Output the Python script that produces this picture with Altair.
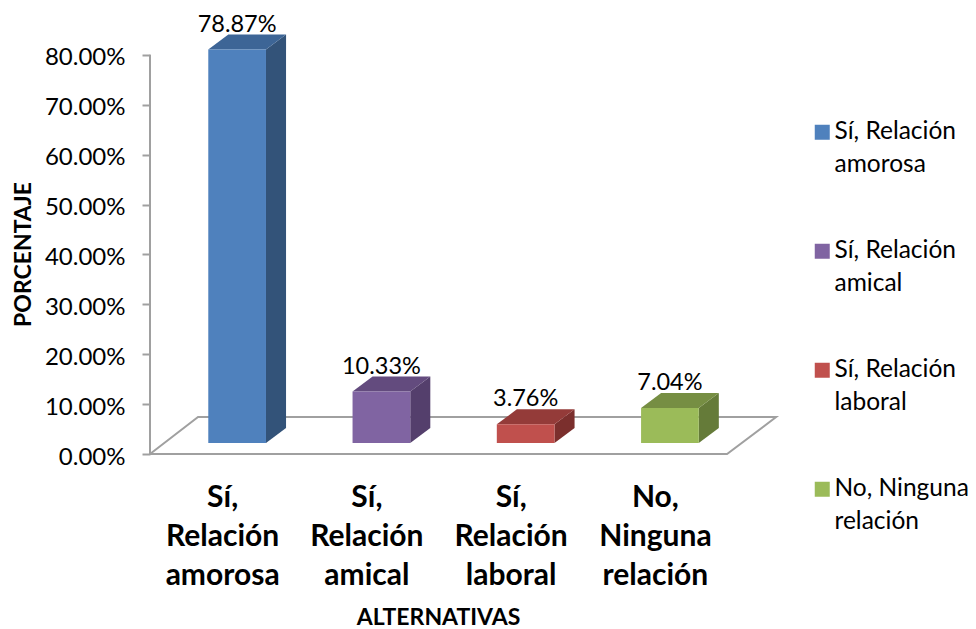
import json
import altair as alt
import pandas as pd

categories = ["Sí, Relación amorosa", "Sí, Relación amical", "Sí, Relación laboral", "No, Ninguna relación"]
legend_lines = [["Sí, Relación", "amorosa"], ["Sí, Relación", "amical"], ["Sí, Relación", "laboral"], ["No, Ninguna", "relación"]]
tick_lines = [["Sí,", "Relación", "amorosa"], ["Sí,", "Relación", "amical"], ["Sí,", "Relación", "laboral"], ["No,", "Ninguna", "relación"]]
values = [0.7887, 0.1033, 0.0376, 0.0704]
front_colors = ["#4F81BD", "#8064A2", "#C0504D", "#9BBB59"]
side_colors = ["#335379", "#543F6C", "#7B2F2D", "#657B39"]
top_colors = ["#3D6596", "#634B7E", "#943B39", "#768E43"]
y_ticks = [0, 0.1, 0.2, 0.3, 0.4, 0.5, 0.6, 0.7, 0.8]
floor_x = [-0.5, 3.5, 3.84, -0.167, -0.5]
floor_y = [0.0, 0.0, 0.0741, 0.0741, 0.0]
axis_x = [-0.5]
axis_top = [0.8]

# bar geometry, in data units
half_w = 0.2
shift = 0.104
depth_x = 0.139
depth_y = 0.03
base = 0.022
FONT = "Lato"

X = alt.Scale(domain=[-0.5, 3.867], nice=False, zero=False)
Y = alt.Scale(domain=[0, 0.8898], nice=False, zero=False)

front, side, top = [], [], []
for i, (c, v) in enumerate(zip(categories, values)):
    cx = i + shift
    x0, x1 = cx - half_w, cx + half_w
    t = v + base
    front.append(dict(cat=c, x=x0, x2=x1, y=base, y2=t, lab=f"{v*100:.2f}%", cx=cx, ty=t + depth_y))
    for px, py, py2 in [(x1, base, t), (x1 + depth_x, base + depth_y, t + depth_y)]:
        side.append(dict(cat=c, x=px, y=py, y2=py2, fill=side_colors[i]))
    for px, py, py2 in [(x0, t, t), (x0 + depth_x, t, t + depth_y), (x1, t, t + depth_y),
                        (x1 + depth_x, t + depth_y, t + depth_y)]:
        top.append(dict(cat=c, x=px, y=py, y2=py2, fill=top_colors[i]))
front, side, top = map(pd.DataFrame, (front, side, top))

x_label_expr = json.dumps(dict(enumerate(tick_lines)), ensure_ascii=False) + "[datum.value]"
legend_expr = json.dumps(dict(zip(categories, legend_lines)), ensure_ascii=False) + "[datum.label]"

X_AXIS = alt.Axis(
    values=[0, 1, 2, 3], labelExpr=x_label_expr, title="ALTERNATIVAS", domain=False, ticks=False,
    grid=False, labelFont=FONT, labelFontWeight="bold", labelFontSize=30, labelColor="#000",
    labelLineHeight=39, labelPadding=21, labelOverlap=False, labelFlush=False, labelBound=False,
    titleFont=FONT, titleFontWeight="bold", titleFontSize=23, titleColor="#000",
    titleX=288, titleY=163, titleBaseline="middle", titleAlign="center")
Y_AXIS = alt.Axis(
    values=y_ticks, format=".2%", title="PORCENTAJE", domain=False, grid=False,
    tickColor="#A0A0A0", tickWidth=2, tickSize=8, labelFont=FONT, labelFontSize=24, labelColor="#000",
    labelPadding=17, labelOffset=-4,
    titleFont=FONT, titleFontWeight="bold", titleFontSize=23, titleColor="#000",
    titleX=-127, titleY=244, titleBaseline="middle", titleAlign="center")

def ex(field):
    return alt.X(field, scale=X, axis=X_AXIS)

def ey(field):
    return alt.Y(field, scale=Y, axis=Y_AXIS)

floor_df = pd.DataFrame(dict(x=floor_x, y=floor_y, o=range(len(floor_x))))
floor = alt.Chart(floor_df).mark_line(color="#A0A0A0", strokeWidth=2, strokeJoin="miter").encode(
    x=ex("x:Q"), y=ey("y:Q"), order="o:Q",
)

axis_df = pd.DataFrame(dict(x=axis_x, top=axis_top, b=[0]))
axis_line = alt.Chart(axis_df).mark_rule(color="#A0A0A0", strokeWidth=2).encode(
    x=ex("x:Q"), y=ey("b:Q"), y2="top:Q",
)

def face(df):
    return alt.Chart(df).mark_area(opacity=1, line=False).encode(
        x=ex("x:Q"), y=ey("y:Q"), y2="y2:Q",
        fill=alt.Fill("fill:N", scale=None),
        detail="cat:N",
    )

front_layer = alt.Chart(front).mark_rect().encode(
    x=ex("x:Q"), x2="x2:Q", y=ey("y:Q"), y2="y2:Q",
    color=alt.Color("cat:N", sort=categories,
                    scale=alt.Scale(domain=categories, range=front_colors),
                    legend=alt.Legend(
                        orient="none", legendX=660, legendY=110, title=None,
                        labelExpr=legend_expr,
                        symbolType="square", symbolSize=225, symbolStrokeWidth=0,
                        labelFont=FONT, labelFontSize=24.5, labelColor="#000", labelBaseline="alphabetic",
                        labelLimit=300, labelOffset=0, rowPadding=61)),
)

labels = alt.Chart(front).mark_text(font=FONT, fontSize=23.5, color="#000", baseline="alphabetic", dy=-3).encode(
    x=ex("cx:Q"), y=ey("ty:Q"), text="lab:N",
)

chart = alt.layer(floor, axis_line, face(side), face(top), front_layer, labels).properties(
    width=630, height=444,
    autosize=alt.AutoSizeParams(type="none"),
    padding={"left": 142, "top": 2, "right": 188, "bottom": 175},
    background="white",
).configure(style={"guide-label": {"lineHeight": 33, "dy": 7}}, view=alt.ViewConfig(stroke=None))

chart.save("out.html", embed_options={"renderer": "svg", "actions": False})
